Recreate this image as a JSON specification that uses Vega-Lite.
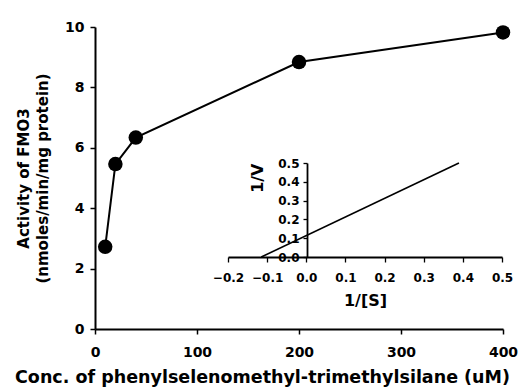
{
  "$schema": "https://vega.github.io/schema/vega-lite/v6.json",
  "width": 408,
  "height": 302,
  "autosize": {"type": "none"},
  "padding": {"left": 95, "top": 27, "right": 24, "bottom": 60},
  "background": "white",
  "config": {
    "view": {"stroke": null},
    "axis": {
      "grid": false,
      "domainColor": "black",
      "tickColor": "black",
      "labelColor": "black",
      "titleColor": "black",
      "labelFont": "DejaVu Sans",
      "titleFont": "DejaVu Sans",
      "labelFontWeight": "bold",
      "titleFontWeight": "bold",
      "labelOverlap": false
    }
  },
  "layer": [
    {
      "data": {
        "values": [
          {"conc": 10, "activity": 2.72},
          {"conc": 20, "activity": 5.46},
          {"conc": 40, "activity": 6.34},
          {"conc": 200, "activity": 8.84},
          {"conc": 400, "activity": 9.82}
        ]
      },
      "encoding": {
        "x": {
          "field": "conc",
          "type": "quantitative",
          "scale": {"domain": [0, 400], "nice": false},
          "axis": {
            "orient": "bottom",
            "values": [0, 100, 200, 300, 400],
            "labelFlush": false,
            "labelFontSize": 14,
            "labelPadding": 11,
            "tickSize": 5,
            "domainWidth": 2,
            "tickWidth": 1.5,
            "title": "Conc. of phenylselenomethyl-trimethylsilane (uM)",
            "titleFontSize": 17.5,
            "titleX": 167,
            "titleAlign": "center",
            "titleAnchor": null,
            "titlePadding": 9
          }
        },
        "y": {
          "field": "activity",
          "type": "quantitative",
          "scale": {"domain": [0, 10], "nice": false},
          "axis": {
            "orient": "left",
            "values": [0, 2, 4, 6, 8, 10],
            "labelFontSize": 14,
            "labelPadding": 6,
            "tickSize": 5,
            "domainWidth": 2,
            "tickWidth": 1.5,
            "title": ["Activity of FMO3", "(nmoles/min/mg protein)"],
            "titleFontSize": 15,
            "titleLineHeight": 19,
            "titlePadding": 14
          }
        }
      },
      "layer": [
        {"mark": {"type": "line", "color": "black", "strokeWidth": 2}},
        {"mark": {"type": "point", "filled": true, "color": "black", "opacity": 1, "size": 210}}
      ]
    },
    {
      "data": {
        "values": [
          {"invS": -0.115, "invV": 0},
          {"invS": 0.39, "invV": 0.5}
        ]
      },
      "mark": {"type": "line", "color": "black", "strokeWidth": 1.6},
      "encoding": {
        "x": {
          "field": "invS",
          "type": "quantitative",
          "scale": {"domain": [-0.2, 0.5], "range": [133, 407], "nice": false, "zero": false},
          "axis": {
            "orient": "bottom",
            "offset": -72,
            "values": [-0.2, -0.1, 0, 0.1, 0.2, 0.3, 0.4, 0.5],
            "format": ".1f",
            "labelFlush": false,
            "labelFontSize": 12,
            "labelPadding": 10,
            "tickSize": 5,
            "domainWidth": 1.8,
            "tickWidth": 1.3,
            "title": "1/[S]",
            "titleFontSize": 16,
            "titlePadding": 9
          }
        },
        "y": {
          "field": "invV",
          "type": "quantitative",
          "scale": {"domain": [0, 0.5], "range": [230, 136], "nice": false, "zero": false},
          "axis": {
            "orient": "left",
            "offset": -212,
            "values": [0, 0.1, 0.2, 0.3, 0.4, 0.5],
            "format": ".1f",
            "labelFontSize": 12,
            "labelPadding": 4,
            "tickSize": 4,
            "domainWidth": 1.8,
            "tickWidth": 1.3,
            "title": "1/V",
            "titleFontSize": 16,
            "titleAnchor": "end",
            "titlePadding": 12
          }
        }
      }
    }
  ],
  "resolve": {
    "scale": {"x": "independent", "y": "independent"},
    "axis": {"x": "independent", "y": "independent"}
  }
}
